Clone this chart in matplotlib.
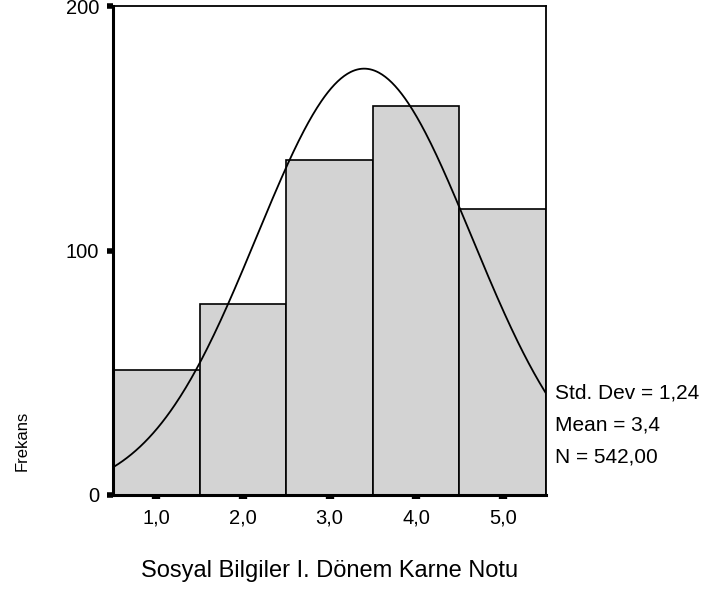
import numpy as np
import matplotlib
matplotlib.use("Agg")
import matplotlib.pyplot as plt

# Data
categories = [1.0, 2.0, 3.0, 4.0, 5.0]
counts = [51, 78, 137, 159, 117]
tick_labels = ["1,0", "2,0", "3,0", "4,0", "5,0"]
y_ticks = [0, 100, 200]
std_dev = 1.24
mean = 3.4
n_total = 542
bin_width = 1.0

plt.rcParams['font.family'] = ['Liberation Sans', 'DejaVu Sans']

fig = plt.figure(figsize=(7.25, 5.89), dpi=100)
ax = fig.add_axes([113/725, 1-495/589, (546-113)/725, (495-6)/589])

ax.bar(categories, counts, width=bin_width, color='#d3d3d3', edgecolor='black', linewidth=1.2, zorder=2)

xs = np.linspace(0.5, 5.5, 400)
curve = n_total * bin_width / (std_dev * np.sqrt(2*np.pi)) * np.exp(-0.5*((xs-mean)/std_dev)**2)
ax.plot(xs, curve, color='black', linewidth=1.3, zorder=3)

ax.set_xlim(0.5, 5.5)
ax.set_ylim(0, 200)
ax.set_xticks(categories)
ax.set_xticklabels(tick_labels, fontsize=14.5)
ax.set_yticks(y_ticks)
ax.set_yticklabels([str(v) for v in y_ticks], fontsize=14.5)
ax.tick_params(axis='x', length=3, width=6, color='black', pad=7)
ax.tick_params(axis='y', length=4, width=4, color='black', pad=6)

ax.spines['left'].set_linewidth(2.2)
ax.spines['bottom'].set_linewidth(2.2)
ax.spines['top'].set_linewidth(1.3)
ax.spines['right'].set_linewidth(1.3)

fig.text(555/725, 1-393/589, "Std. Dev = 1,24", fontsize=15, va='center', ha='left')
fig.text(555/725, 1-425/589, "Mean = 3,4", fontsize=15, va='center', ha='left')
fig.text(555/725, 1-457/589, "N = 542,00", fontsize=15, va='center', ha='left')

fig.text(330/725, 1-571/589, "Sosyal Bilgiler I. Dönem Karne Notu", fontsize=17, ha='center', va='center')
fig.text(22/725, 1-441/589, "Frekans", fontsize=12, rotation=90, ha='center', va='center')

fig.savefig("out.png", dpi=100)
